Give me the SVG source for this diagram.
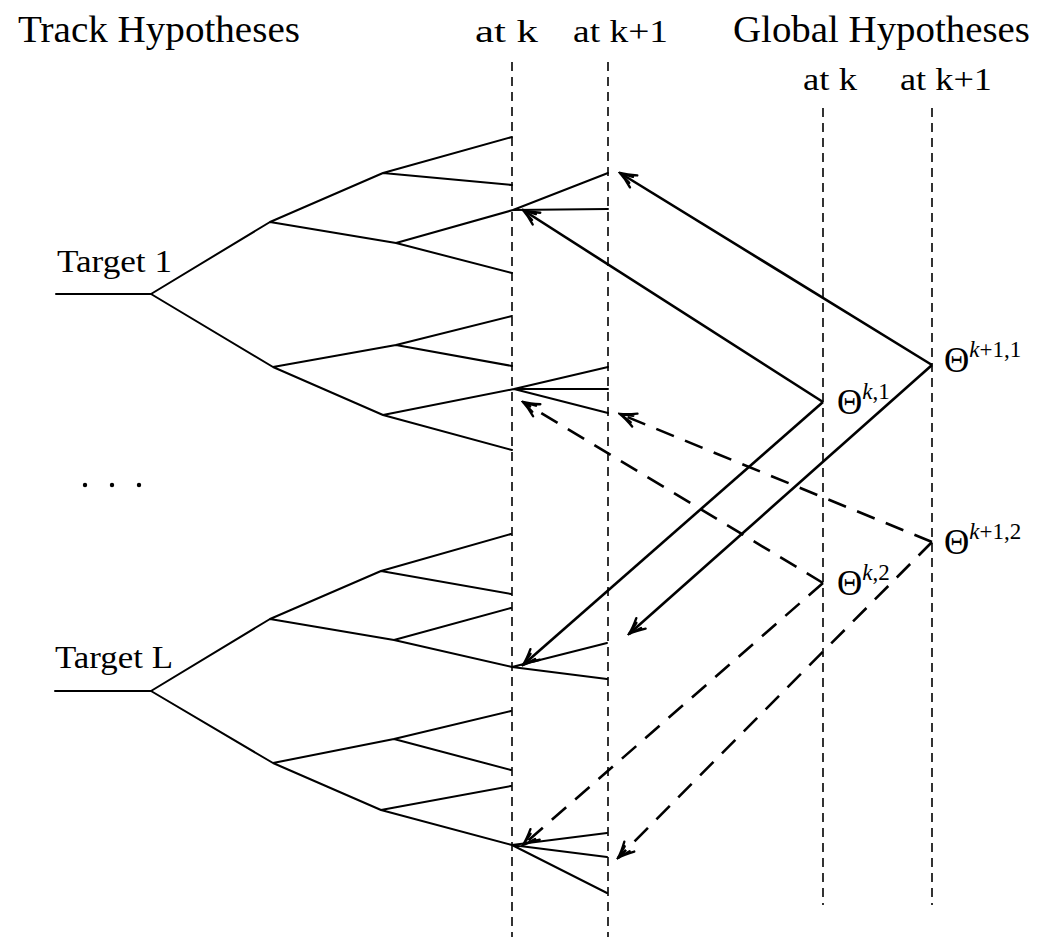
<svg xmlns="http://www.w3.org/2000/svg" width="1039" height="937" viewBox="0 0 1039 937">
<style>
.bg{fill:#fff}
.t{font-family:"Liberation Serif","DejaVu Serif",serif;fill:#000}
.tree{stroke:#000;stroke-width:2;fill:none;stroke-linecap:round;stroke-linejoin:round}
.guide{stroke:#000;stroke-width:1.6;stroke-dasharray:9 6;fill:none}
.arr{stroke:#000;stroke-width:2.6;fill:none}
.dash{stroke-dasharray:19 12}
</style>
<defs>
<marker id="ah" viewBox="-18 -9 20 18" refX="0" refY="0" markerWidth="20" markerHeight="18" markerUnits="userSpaceOnUse" orient="auto">
<path d="M-16,-7 Q-7,-2 0,0 Q-7,2 -16,7 M-13,-3.5 L0,0 L-13,3.5" fill="none" stroke="#000" stroke-width="2.4" stroke-linecap="round"/>
</marker>
</defs>
<rect class="bg" x="0" y="0" width="1039" height="937"/>
<g id="labels">
<text class="t" x="18" y="42" font-size="37" textLength="282" lengthAdjust="spacingAndGlyphs">Track Hypotheses</text>
<text class="t" x="475" y="42" font-size="31" textLength="63" lengthAdjust="spacingAndGlyphs">at k</text>
<text class="t" x="573" y="42" font-size="31" textLength="95" lengthAdjust="spacingAndGlyphs">at k+1</text>
<text class="t" x="733" y="42" font-size="37" textLength="297" lengthAdjust="spacingAndGlyphs">Global Hypotheses</text>
<text class="t" x="803" y="90" font-size="31" textLength="54" lengthAdjust="spacingAndGlyphs">at k</text>
<text class="t" x="900" y="90" font-size="31" textLength="92" lengthAdjust="spacingAndGlyphs">at k+1</text>
<text class="t" x="57" y="272" font-size="32" textLength="115" lengthAdjust="spacingAndGlyphs">Target 1</text>
<text class="t" x="55" y="668" font-size="32" textLength="118" lengthAdjust="spacingAndGlyphs">Target L</text>
<circle cx="85" cy="485" r="2.2" fill="#000"/>
<circle cx="112" cy="485" r="2.2" fill="#000"/>
<circle cx="139" cy="485" r="2.2" fill="#000"/>
</g>
<g id="guides">
<line class="guide" x1="512" y1="62" x2="512" y2="937"/>
<line class="guide" x1="608" y1="62" x2="608" y2="937"/>
<line class="guide" x1="823" y1="108" x2="823" y2="905"/>
<line class="guide" x1="932" y1="108" x2="932" y2="905"/>
</g>
<g id="target1">
<path class="tree" d="M56,294 L151,294 M151,294 L270,222 M151,294 L273,367 M270,222 L383,173 M270,222 L396,243 M383,173 L512,137 M383,173 L512,185 M396,243 L513,210 M396,243 L512,273 M273,367 L396,345 M273,367 L383,415 M396,345 L512,316 M396,345 L512,366 M383,415 L514,389 M383,415 L512,450 M513,210 L608,173 M513,210 L608,209 M514,389 L608,367 M514,389 L608,389 M514,389 L608,413"/>
</g>
<g id="targetL">
<path class="tree" d="M55,691 L151,691 M151,691 L270,619 M151,691 L273,763 M270,619 L381,571 M270,619 L394,640 M381,571 L511,534 M381,571 L511,594 M394,640 L511,608 M394,640 L512,667 M273,763 L394,739 M273,763 L381,810 M394,739 L511,711 M394,739 L511,770 M381,810 L511,786 M381,810 L512,845 M512,667 L607,643 M512,667 L607,679 M512,845 L607,833 M512,845 L607,857 M512,845 L607,893"/>
</g>
<g id="theta-k1-1"><text class="t" x="837" y="414" font-size="35">Θ<tspan font-size="23" dy="-15" font-style="italic">k</tspan><tspan font-size="23">,1</tspan></text></g>
<g id="theta-k1p-1"><text class="t" x="944" y="372" font-size="35">Θ<tspan font-size="23" dy="-15" font-style="italic">k</tspan><tspan font-size="23">+1,1</tspan></text></g>
<g id="theta-k1p-2"><text class="t" x="944" y="554" font-size="35">Θ<tspan font-size="23" dy="-15" font-style="italic">k</tspan><tspan font-size="23">+1,2</tspan></text></g>
<g id="theta-k-2"><text class="t" x="837" y="595" font-size="35">Θ<tspan font-size="23" dy="-15" font-style="italic">k</tspan><tspan font-size="23">,2</tspan></text></g>
<g id="connectors">
<line class="arr" x1="932" y1="365" x2="620" y2="173" marker-end="url(#ah)"/>
<line class="arr" x1="932" y1="365" x2="629" y2="634" marker-end="url(#ah)"/>
<line class="arr" x1="823" y1="402" x2="523" y2="210" marker-end="url(#ah)"/>
<line class="arr" x1="823" y1="402" x2="523" y2="665" marker-end="url(#ah)"/>
<line class="arr dash" x1="932" y1="542" x2="620" y2="414" marker-end="url(#ah)"/>
<line class="arr dash" x1="932" y1="542" x2="618" y2="858" marker-end="url(#ah)"/>
<line class="arr dash" x1="823" y1="583" x2="523" y2="402" marker-end="url(#ah)"/>
<line class="arr dash" x1="823" y1="583" x2="523" y2="845" marker-end="url(#ah)"/>
</g>
</svg>
